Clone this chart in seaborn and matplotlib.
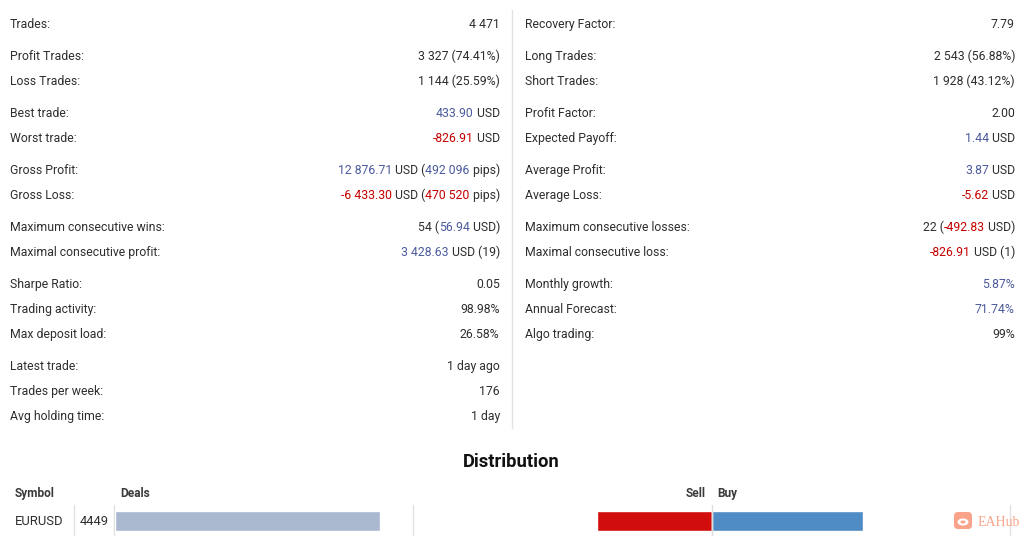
import matplotlib
matplotlib.use("Agg")
import matplotlib.pyplot as plt
from matplotlib.font_manager import FontProperties
from matplotlib.patches import FancyBboxPatch, Ellipse
import seaborn as sns
import pandas as pd

# ---------------- data ----------------
# [+x] -> positive (blue) highlight, [-x] -> negative (red) highlight
left_labels = ["Trades:", "Profit Trades:", "Loss Trades:", "Best trade:", "Worst trade:",
               "Gross Profit:", "Gross Loss:", "Maximum consecutive wins:",
               "Maximal consecutive profit:", "Sharpe Ratio:", "Trading activity:",
               "Max deposit load:", "Latest trade:", "Trades per week:", "Avg holding time:"]
left_values = ["4 471", "3 327 (74.41%)", "1 144 (25.59%)", "[+433.90] USD", "[--826.91] USD",
               "[+12 876.71] USD ([+492 096] pips)", "[--6 433.30] USD ([-470 520] pips)",
               "54 ([+56.94] USD)", "[+3 428.63] USD (19)", "0.05", "98.98%", "26.58%",
               "1 day ago", "176", "1 day"]
left_groups = [0, 1, 1, 2, 2, 3, 3, 4, 4, 5, 5, 5, 6, 6, 6]

right_labels = ["Recovery Factor:", "Long Trades:", "Short Trades:", "Profit Factor:",
                "Expected Payoff:", "Average Profit:", "Average Loss:",
                "Maximum consecutive losses:", "Maximal consecutive loss:",
                "Monthly growth:", "Annual Forecast:", "Algo trading:"]
right_values = ["7.79", "2 543 (56.88%)", "1 928 (43.12%)", "2.00", "[+1.44] USD",
                "[+3.87] USD", "[--5.62] USD", "22 ([--492.83] USD)", "[--826.91] USD (1)",
                "[+5.87%]", "[+71.74%]", "99%"]
right_groups = [0, 1, 1, 2, 2, 3, 3, 4, 4, 5, 5, 5]

dist_symbols = ["EURUSD"]
dist_deals = [4449]
dist_sell = [1918]
dist_buy = [2531]

# ---------------- style ----------------
W, H = 1024, 536
FONT = "Roboto"
FS = 8.8
C_TXT = "#2e2e2e"
C_POS = "#4a5a9c"
C_NEG = "#c40000"
C_LINE = "#e2e2e2"

sns.set_theme(style="white")
plt.rcParams["font.family"] = [FONT, "DejaVu Sans"]

fig = plt.figure(figsize=(W / 100, H / 100), dpi=100)
ax = fig.add_axes([0, 0, 1, 1])
ax.set_xlim(0, W)
ax.set_ylim(H, 0)
ax.axis("off")

renderer = fig.canvas.get_renderer()
prop = FontProperties(family=FONT, size=FS)


def tw(s):
    w, h, d = renderer.get_text_width_height_descent(s, prop, ismath=False)
    return w


def parse(val):
    segs = []
    i = 0
    while i < len(val):
        if val[i] == "[":
            j = val.index("]", i)
            body = val[i + 1:j]
            col = C_POS if body[0] == "+" else C_NEG
            segs.append((body[1:], col))
            i = j + 1
        else:
            j = val.find("[", i)
            if j == -1:
                j = len(val)
            segs.append((val[i:j], C_TXT))
            i = j
    return segs


def draw_value(xr, y, val):
    segs = parse(val)
    full = "".join(s for s, _ in segs)
    x0 = xr - tw(full)
    prefix = ""
    for s, c in segs:
        off = tw(prefix + "|") - tw("|") if prefix else 0
        ax.text(round(x0 + off), y, s, ha="left", va="baseline", color=c,
                fontproperties=prop)
        prefix += s


def draw_column(labels, values, groups, xl, xr):
    y = 28.2
    prev = groups[0]
    for lab, val, g in zip(labels, values, groups):
        if g != prev:
            y += 7
            prev = g
        ax.text(xl, y, lab, ha="left", va="baseline", color=C_TXT, fontproperties=prop)
        draw_value(xr, y, val)
        y += 25


# stats columns
draw_column(left_labels, left_values, left_groups, 10, 500)
draw_column(right_labels, right_values, right_groups, 525, 1015)
ax.plot([512, 512], [10, 428], color=C_LINE, lw=1)

# distribution section
ax.text(511, 467.2, "Distribution", ha="center", va="baseline", color="#111111",
        fontsize=13.2, fontweight="bold")
hprop = dict(fontsize=8.6, fontweight="bold", color="#3a3a3a", va="baseline")
ax.text(15, 497.2, "Symbol", ha="left", **hprop)
ax.text(120, 497.2, "Deals", ha="left", **hprop)
ax.text(706, 497.2, "Sell", ha="right", **hprop)
ax.text(717, 497.2, "Buy", ha="left", **hprop)

row_y = 525.2
for i, sym in enumerate(dist_symbols):
    ax.text(15, row_y, sym, ha="left", va="baseline", color=C_TXT, family=FONT,
            fontsize=9.4)
    ax.text(80, row_y, str(dist_deals[i]), ha="left", va="baseline", color=C_TXT,
            family=FONT, fontsize=9.4)
for xv in [74, 114, 413, 1010]:
    ax.plot([xv, xv], [505, 536], color=C_LINE, lw=1)

# watermark
ax.add_patch(FancyBboxPatch((954, 512), 18, 17, boxstyle="round,pad=0,rounding_size=4",
                            fc="#f9a48a", ec="none"))
ax.add_patch(Ellipse((963, 522), 11, 7, fc="white", ec="none"))
ax.add_patch(Ellipse((963, 522), 5, 3, fc="#f9a48a", ec="none"))
ax.text(978, 526.2, "EAHub", ha="left", va="baseline", color="#f9a48a", fontsize=10,
        family="Liberation Serif")

# deals bar
ax_d = fig.add_axes([115 / W, 0, (413 - 115) / W, 31 / H])
ax_d.patch.set_alpha(0)
df_d = pd.DataFrame({"symbol": dist_symbols, "deals": dist_deals})
sns.barplot(data=df_d, x="deals", y="symbol", orient="h", color="#aab8d0",
            width=20 / 31, ax=ax_d, saturation=1)
ax_d.set_xlim(0, 5000)
ax_d.set_ylim(0.5, -0.5)
ax_d.axis("off")

# sell / buy bars
ax_s = fig.add_axes([413 / W, 0, (1010 - 413) / W, 31 / H])
ax_s.patch.set_alpha(0)
df_s = pd.DataFrame({
    "symbol": dist_symbols * 2,
    "count": [-v for v in dist_sell] + list(dist_buy),
    "side": ["Sell"] * len(dist_sell) + ["Buy"] * len(dist_buy),
})
sns.barplot(data=df_s, x="count", y="symbol", hue="side", orient="h", dodge=False,
            palette={"Sell": "#d20d0d", "Buy": "#4f8bc4"}, width=20 / 31, ax=ax_s,
            saturation=1, legend=False)
ax_s.set_xlim(-5000, 5000)
ax_s.set_ylim(0.5, -0.5)
ax_s.axvline(0, color="#dddddd", lw=1, zorder=5)
ax_s.axis("off")

fig.savefig("out.png", dpi=100, facecolor="white")
